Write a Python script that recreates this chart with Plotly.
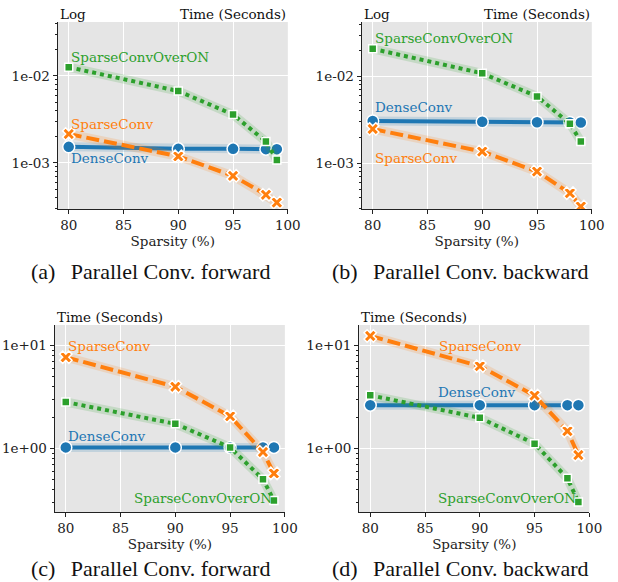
import numpy as np
import plotly.graph_objects as go

# ---------------- data ----------------
sparsity = [80, 90, 95, 98, 99]

a_dense = [1.53e-3, 1.45e-3, 1.45e-3, 1.44e-3, 1.44e-3]
a_sparse = [2.15e-3, 1.19e-3, 7.1e-4, 4.3e-4, 3.5e-4]
a_over = [1.26e-2, 6.7e-3, 3.6e-3, 1.76e-3, 1.08e-3]

b_dense = [3.06e-3, 3.0e-3, 2.97e-3, 2.95e-3, 2.95e-3]
b_sparse = [2.48e-3, 1.36e-3, 8.0e-4, 4.5e-4, 3.16e-4]
b_over = [2.09e-2, 1.09e-2, 5.9e-3, 2.85e-3, 1.78e-3]

c_dense = [1.02, 1.02, 1.02, 1.02, 1.02]
c_sparse = [7.7, 3.97, 2.05, 0.92, 0.57]
c_over = [2.82, 1.73, 1.02, 0.50, 0.31]

d_dense = [2.63, 2.63, 2.63, 2.63, 2.63]
d_sparse = [12.4, 6.3, 3.26, 1.47, 0.86]
d_over = [3.28, 1.98, 1.11, 0.51, 0.30]

series_names = ["DenseConv", "SparseConv", "SparseConvOverON"]
captions = ["(a)\u2002\u2009Parallel Conv. forward", "(b)\u2002\u2009Parallel Conv. backward",
            "(c)\u2002\u2009Parallel Conv. forward", "(d)\u2002\u2009Parallel Conv. backward"]

# label positions (x, y) per panel for DenseConv, SparseConv, SparseConvOverON
a_labels = [(80, 1.14e-3), (80, 2.79e-3), (80, 1.66e-2)]
b_labels = [(80, 4.45e-3), (80, 1.14e-3), (80, 2.8e-2)]
c_labels = [(80, 1.31), (80, 9.8), (86.0, 0.327)]
d_labels = [(86.0, 3.54), (86.1, 9.8), (86.0, 0.33)]

# ---------------- style ----------------
colors = ["#1f77b4", "#ff7f0e", "#2ca02c"]
symbols = ["circle", "x", "square"]
msizes = [12, 11, 8]
dashes = ["solid", "13px,5px", "4px,4px"]

panels = [
    dict(data=[a_dense, a_sparse, a_over], labels=a_labels, cap_x=153.5,
         dom_x=(59, 294), dom_y=(22, 209), yr=(-3.53, -1.38), decades=[-3, -2]),
    dict(data=[b_dense, b_sparse, b_over], labels=b_labels, cap_x=470.5,
         dom_x=(369.5, 604.5), dom_y=(22, 209), yr=(-3.53, -1.37), decades=[-3, -2]),
    dict(data=[c_dense, c_sparse, c_over], labels=c_labels, cap_x=153.5,
         dom_x=(56, 291), dom_y=(325, 512), yr=(-0.62, 1.2), decades=[0, 1]),
    dict(data=[d_dense, d_sparse, d_over], labels=d_labels, cap_x=470.5,
         dom_x=(367, 602), dom_y=(325, 512), yr=(-0.62, 1.2), decades=[0, 1]),
]

W, H = 618, 582
FONT = "DejaVu Serif"
FS = 13.5
fig = go.Figure()
annotations = []

for i, p in enumerate(panels):
    k = "" if i == 0 else str(i + 1)
    xa, ya = "x" + k, "y" + k
    for j in range(3):
        yvals = p["data"][j]
        # light band behind
        fig.add_trace(go.Scatter(x=sparsity, y=yvals, xaxis=xa, yaxis=ya, mode="lines",
                                 line=dict(color=colors[j], width=9), opacity=0.17,
                                 showlegend=False, hoverinfo="skip"))
        fig.add_trace(go.Scatter(x=sparsity, y=yvals, xaxis=xa, yaxis=ya, mode="lines+markers",
                                 name=series_names[j],
                                 line=dict(color=colors[j], width=4, dash=dashes[j]),
                                 marker=dict(symbol=symbols[j], size=msizes[j], color=colors[j],
                                             line=dict(color="white", width=1.5)),
                                 showlegend=False))
        lx, ly = p["labels"][j]
        annotations.append(dict(x=lx, y=np.log10(ly), xref=xa, yref=ya, text=series_names[j],
                                showarrow=False, xanchor="left", yanchor="middle",
                                font=dict(family=FONT, size=FS, color=colors[j])))
    x0, x1 = p["dom_x"]
    y0, y1 = p["dom_y"]
    dec = p["decades"]
    minors = []
    for d in range(dec[0] - 1, dec[1] + 1):
        for m in range(2, 10):
            minors.append(m * 10.0 ** d)
    tickvals = [10.0 ** d for d in dec]
    ticktext = ["1e%+03d" % d for d in dec]
    axis_common = dict(showline=True, linecolor="#222", linewidth=1.3, ticks="outside",
                       tickcolor="#222", ticklen=4, tickwidth=1,
                       gridcolor="white", gridwidth=1.2, zeroline=False,
                       tickfont=dict(family=FONT, size=FS, color="#222"))
    fig.layout["xaxis" + k] = dict(domain=[x0 / W, x1 / W], anchor=ya, range=[79.0, 100],
                                   tickvals=[80, 85, 90, 95, 100],
                                   title=dict(text="Sparsity (%)", standoff=2,
                                              font=dict(family=FONT, size=FS, color="#222")),
                                   **axis_common)
    fig.layout["yaxis" + k] = dict(domain=[1 - y1 / H, 1 - y0 / H], anchor=xa, type="log",
                                   range=list(p["yr"]), tickvals=tickvals, ticktext=ticktext,
                                   minor=dict(tickvals=minors, ticks="outside", ticklen=2,
                                              tickcolor="#222", showgrid=False),
                                   **axis_common)
    # header texts
    if i < 2:
        annotations.append(dict(x=x0 / W, y=1 - 14 / H, xref="paper", yref="paper", text="Log",
                                showarrow=False, xanchor="left", yanchor="middle",
                                font=dict(family=FONT, size=FS, color="#111")))
        annotations.append(dict(x=x1 / W, y=1 - 14 / H, xref="paper", yref="paper",
                                text="Time (Seconds)", showarrow=False, xanchor="right",
                                yanchor="middle", font=dict(family=FONT, size=FS, color="#111")))
        cy = 271
    else:
        annotations.append(dict(x=x0 / W, y=1 - 316.5 / H, xref="paper", yref="paper",
                                text="Time (Seconds)", showarrow=False, xanchor="left",
                                yanchor="middle", font=dict(family=FONT, size=FS, color="#111")))
        cy = 568
    annotations.append(dict(x=p["cap_x"] / W, y=1 - cy / H, xref="paper", yref="paper",
                            text=captions[i], showarrow=False, xanchor="center", yanchor="middle",
                            font=dict(family="Liberation Serif", size=22, color="#111")))

fig.update_layout(width=W, height=H, margin=dict(l=0, r=0, t=0, b=0),
                  paper_bgcolor="white", plot_bgcolor="#E5E5E5",
                  annotations=annotations, showlegend=False)

fig.write_html("out.html", config={"displayModeBar": False},
               post_script="document.body.style.margin='0';")
